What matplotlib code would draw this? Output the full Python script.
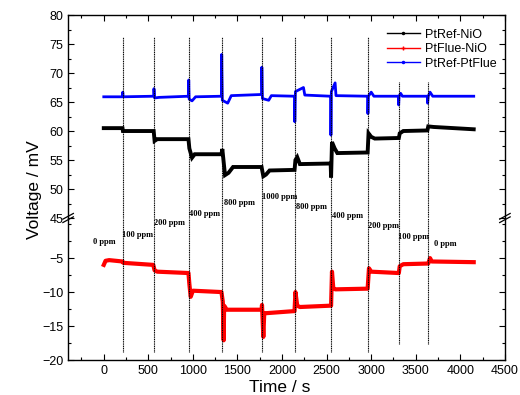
import numpy as np
import matplotlib
matplotlib.use('Agg')
from matplotlib import pyplot as plt
from matplotlib.lines import Line2D
from matplotlib.ticker import MultipleLocator
import matplotlib.transforms as mtransforms

plt.rcParams['font.family'] = 'Liberation Sans'

# ---- datos ----
# PtRef-NiO (negro, eje superior)
black_t = [0, 210, 215, 560, 570, 600, 950, 960, 990, 1020, 1320, 1330, 1360, 1400, 1450,
           1770, 1790, 1820, 1860, 2140, 2150, 2170, 2200, 2545, 2550, 2560, 2590, 2620,
           2960, 2970, 3000, 3040, 3310, 3320, 3360, 3630, 3640, 3700, 4150]
black_v = [60.5, 60.5, 60.0, 60.0, 58.3, 58.6, 58.6, 57.0, 55.4, 56.0, 56.0, 56.9, 52.4, 52.8, 53.8,
           53.8, 52.2, 52.5, 53.2, 53.3, 55.0, 55.5, 54.3, 54.4, 52.0, 58.1, 57.0, 56.2,
           56.3, 59.6, 59.0, 58.7, 58.8, 59.6, 60.0, 60.1, 60.8, 60.7, 60.3]

# PtRef-PtFlue (azul, eje superior)
blue_t = [0, 210, 213, 218, 560, 563, 570, 620, 950, 953, 958, 990, 1030,
          1320, 1323, 1330, 1390, 1430, 1770, 1773, 1780, 1850, 1880,
          2140, 2143, 2150, 2240, 2255, 2545, 2548, 2553, 2595, 2605,
          2960, 2963, 2968, 3000, 3030, 3305, 3308, 3313, 3330, 3350,
          3630, 3633, 3640, 3660, 3690, 4150]
blue_v = [65.9, 65.9, 66.7, 65.9, 66.0, 67.3, 65.7, 65.8, 66.0, 68.8, 65.5, 65.2, 65.9,
          66.0, 73.2, 65.3, 64.8, 66.1, 66.3, 71.0, 65.6, 65.3, 66.1,
          66.0, 61.6, 66.8, 67.5, 66.2, 66.0, 59.3, 66.8, 68.3, 66.1,
          66.0, 63.0, 66.0, 66.7, 66.0, 66.0, 64.5, 66.0, 66.5, 66.0,
          66.0, 64.8, 66.0, 66.7, 66.0, 66.0]

# PtFlue-NiO (rojo, eje inferior)
red_t = [0, 20, 60, 210, 220, 555, 570, 600, 950, 960, 975, 1000, 1320, 1335, 1345, 1350, 1380,
         1770, 1775, 1790, 1800, 1830, 2140, 2150, 2170, 2200, 2550, 2560, 2575, 2600,
         2960, 2975, 3000, 3310, 3320, 3360, 3640, 3660, 3680, 4150]
red_v = [-6.0, -5.4, -5.3, -5.5, -5.7, -6.0, -6.8, -7.0, -7.2, -8.8, -10.7, -9.8, -10.0, -11.4, -17.1, -12.0, -12.6,
         -12.6, -11.9, -16.6, -13.1, -13.1, -12.8, -10.0, -12.0, -12.2, -12.0, -7.0, -9.5, -9.6,
         -9.5, -6.5, -7.0, -7.2, -6.2, -5.9, -5.8, -5.0, -5.5, -5.6]

# cambios de concentracion
t_cambio = [213, 561, 954, 1324, 1773, 2144, 2548, 2963, 3311, 3636]
ppm_lab = ['0 ppm', '100 ppm', '200 ppm', '400 ppm', '800 ppm', '1000 ppm',
           '800 ppm', '400 ppm', '200 ppm', '100 ppm', '0 ppm']
ppm_x = [-123, 202, 565, 960, 1350, 1773, 2155, 2560, 2963, 3300, 3704]
ppm_y = [-2.65, -1.6, 0.15, 1.5, 3.1, 4.0, 2.5, 1.2, -0.3, -1.9, -2.9]

fig = plt.figure(figsize=(5.2, 3.95), dpi=100)
ax1 = fig.add_axes([0.131, 0.448, 0.840, 0.514])
ax2 = fig.add_axes([0.131, 0.0886, 0.840, 0.3595])
ax1.patch.set_alpha(0)
ax2.patch.set_alpha(0)

ax1.plot(black_t, black_v, color='black', lw=2.8, solid_joinstyle='miter')
ax1.plot(blue_t, blue_v, color='#0000ff', lw=2.0)
ax2.plot(red_t, red_v, color='#ff0000', lw=3.0)

xlim = (-400, 4500)
for ax in (ax1, ax2):
    ax.set_xlim(xlim)
    ax.xaxis.set_major_locator(MultipleLocator(500))
    ax.xaxis.set_minor_locator(MultipleLocator(250))
    ax.yaxis.set_major_locator(MultipleLocator(5))
    ax.yaxis.set_minor_locator(MultipleLocator(2.5))
    ax.tick_params(which='both', direction='in', left=True, right=True, labelsize=9)
    ax.tick_params(which='major', length=4, width=0.8)
    ax.tick_params(which='minor', length=2.5, width=0.8)
    for s in ax.spines.values():
        s.set_linewidth(1.0)

ax1.set_ylim(45, 80)
ax1.spines['bottom'].set_visible(False)
ax1.tick_params(which='both', bottom=False, labelbottom=False, top=True)

ax2.set_ylim(-20, 0.9)
ax2.spines['top'].set_visible(False)
ax2.tick_params(which='both', top=False, bottom=True)
ax2.set_xticks([0, 500, 1000, 1500, 2000, 2500, 3000, 3500, 4000, 4500])
ax2.set_yticks([-5, -10, -15, -20])

# lineas verticales punteadas
for i, t in enumerate(t_cambio):
    top = 0.892 if i < 8 else 0.67
    bot = 0.056 if i < 8 else 0.113
    ax1.axvline(t, ymin=0, ymax=top, color='black', ls=(0, (1, 0.6)), lw=0.8)
    ax2.axvline(t, ymin=bot, ymax=1.0, color='black', ls=(0, (1, 0.6)), lw=0.8)

for x, y, s in zip(ppm_x, ppm_y, ppm_lab):
    ax2.text(x, y, s, ha='left', va='center', fontsize=6, fontweight='bold',
             family='Liberation Serif', clip_on=False, zorder=5)

# marcas de corte //
for xa in (0.0, 1.0):
    for dy in (-0.012, 0.012):
        ax2.plot([xa - 0.012, xa + 0.012], [1.0 + dy - 0.02, 1.0 + dy + 0.02],
                 transform=ax2.transAxes, color='black', lw=0.9, clip_on=False)

handles = [Line2D([], [], color='black', lw=1.0, marker='.', ms=3),
           Line2D([], [], color='#ff0000', lw=1.0, marker='+', ms=3),
           Line2D([], [], color='#0000ff', lw=1.0, marker='.', ms=3)]
ax1.legend(handles, ['PtRef-NiO', 'PtFlue-NiO', 'PtRef-PtFlue'], loc='upper right',
           bbox_to_anchor=(1.0, 0.975), frameon=False, fontsize=9, handlelength=2.6,
           handletextpad=0.4, labelspacing=0.2, borderaxespad=0.3)

fig.text(35 / 520, 1 - 190 / 395, 'Voltage / mV', rotation=90, ha='center', va='center', fontsize=12.5)
fig.text(280 / 520, 1 - 387 / 395, 'Time / s', ha='center', va='center', fontsize=12.5)

plt.savefig('out.png', dpi=100)
